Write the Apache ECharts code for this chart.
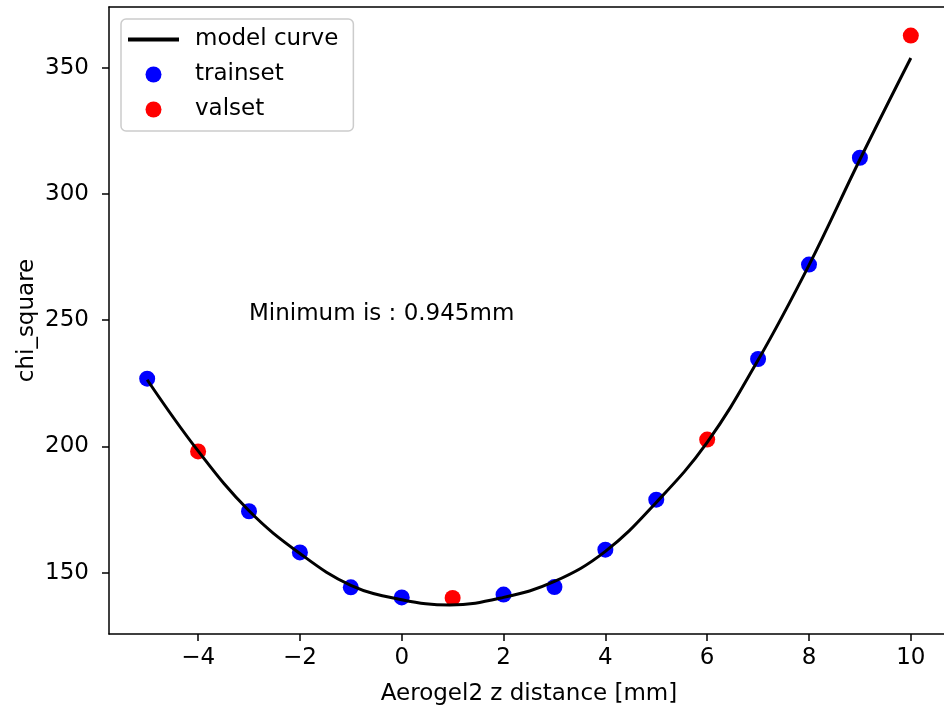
<!DOCTYPE html>
<html><head><meta charset="utf-8">
<script src="https://cdn.jsdelivr.net/npm/echarts@6/dist/echarts.min.js"></script>
<style>html,body{margin:0;padding:0;background:#fff;overflow:hidden}#c{width:944px;height:706px}</style>
</head><body><div id="c"></div>
<script>
const curveX = [-5,-4,-3,-2,-1,0,0.945,2,3,4,5,6,7,8,9,10];
const curveY = [226.4,198.2,174.5,157.6,145.0,139.3,137.2,140.2,146.5,158.4,177.8,201.6,234.2,271.8,313.6,353.8];
const trainX = [-5,-3,-2,-1,0,2,3,4,5,7,8,9];
const trainY = [226.8,174.3,158.0,144.2,140.2,141.3,144.3,159.1,178.9,234.6,272.0,314.3];
const valX = [-4,1,6,10];
const valY = [198.0,140.0,202.7,362.7];
const xTicks = [-4,-2,0,2,4,6,8,10];
const yTicks = [150,200,250,300,350];
const note = {x: -3, y: 250, text: 'Minimum is : 0.945mm'};

const FONT = 'DejaVu Sans';
const FS = 23;
const fmt = v => String(v).replace('-', '\u2212');
const zip = (a, b) => a.map((v, i) => [v, b[i]]);
const XMIN = -5.75, XMAX = 10.75, YMIN = 125.7, YMAX = 374.0;

const chart = echarts.init(document.getElementById('c'), null, {renderer: 'canvas'});
chart.setOption({
  animation: false,
  backgroundColor: '#fff',
  grid: {left: 109, width: 840, top: 7, height: 627, show: false, containLabel: false, outerBoundsMode: 'none'},
  xAxis: [{
    type: 'value', min: XMIN, max: XMAX, position: 'bottom',
    name: 'Aerogel2 z distance [mm]', nameLocation: 'middle', nameGap: 49, nameMoveOverlap: false,
    nameTextStyle: {fontFamily: FONT, fontSize: FS, color: '#000'},
    axisLine: {show: true, onZero: false, lineStyle: {color: '#000', width: 1.5}},
    axisTick: {show: true, length: 7, customValues: xTicks, lineStyle: {color: '#000', width: 1.5}},
    axisLabel: {customValues: xTicks, formatter: fmt, margin: 13, fontFamily: FONT, fontSize: FS, color: '#000'},
    splitLine: {show: false}
  }, {
    type: 'value', min: XMIN, max: XMAX, position: 'top',
    axisLine: {show: true, onZero: false, lineStyle: {color: '#000', width: 1.5}},
    axisTick: {show: false}, axisLabel: {show: false}, splitLine: {show: false}
  }],
  yAxis: {
    type: 'value', min: YMIN, max: YMAX,
    name: 'chi_square', nameLocation: 'middle', nameGap: 70, nameMoveOverlap: false,
    nameTextStyle: {fontFamily: FONT, fontSize: FS, color: '#000'},
    axisLine: {show: true, onZero: false, lineStyle: {color: '#000', width: 1.5}},
    axisTick: {show: true, length: 7, customValues: yTicks, lineStyle: {color: '#000', width: 1.5}},
    axisLabel: {customValues: yTicks, formatter: fmt, margin: 20, fontFamily: FONT, fontSize: FS, color: '#000'},
    splitLine: {show: false}
  },
  legend: {
    orient: 'vertical', left: 121, top: 19,
    padding: [9, 15, 10, 7],
    backgroundColor: 'rgba(255,255,255,0.8)', borderColor: '#cccccc', borderWidth: 1.5, borderRadius: 5,
    itemWidth: 51, itemHeight: 16, itemGap: 12,
    textStyle: {fontFamily: FONT, fontSize: FS, color: '#000', padding: [0, 0, 0, 11]},
    data: [
      {name: 'model curve', icon: 'path://M0,0h51v4h-51z', itemStyle: {color: '#000'}},
      {name: 'trainset', icon: 'circle'},
      {name: 'valset', icon: 'circle'}
    ]
  },
  series: [
    {
      name: 'trainset', type: 'scatter', data: zip(trainX, trainY),
      symbolSize: 16, itemStyle: {color: '#0000ff', opacity: 1}, z: 2
    },
    {
      name: 'valset', type: 'scatter', data: zip(valX, valY),
      symbolSize: 16, itemStyle: {color: '#ff0000', opacity: 1}, z: 2
    },
    {
      name: 'model curve', type: 'line', data: zip(curveX, curveY),
      symbol: 'none', smooth: 0.4, itemStyle: {color: '#000'},
      lineStyle: {color: '#000', width: 3}, z: 3
    }
  ]
});
const p = chart.convertToPixel({gridIndex: 0}, [note.x, note.y]);
chart.setOption({
  graphic: [{
    type: 'text', x: p[0], y: p[1] + 5, z: 10,
    style: {text: note.text, fontFamily: FONT, fontSize: FS, fill: '#000', textAlign: 'left', textVerticalAlign: 'bottom'}
  }]
});
</script></body></html>
